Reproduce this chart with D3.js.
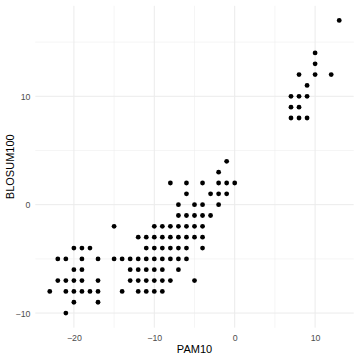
<!DOCTYPE html>
<html>
<head>
<meta charset="utf-8">
<script src="https://cdn.jsdelivr.net/npm/d3@7"></script>
<style>
  html, body { margin: 0; padding: 0; background: #fff; }
  svg { display: block; }
  text { font-family: "Liberation Sans", Arial, Helvetica, sans-serif; }
</style>
</head>
<body>
<svg id="chart" width="360" height="360"></svg>
<script>
// Data: paired scores (PAM10, BLOSUM100)
const pam10 = [
  -21,
  -20, -17,
  -23, -21, -20, -19, -18, -17, -14, -12, -11, -10, -9,
  -22, -21, -20, -19, -17, -13, -12, -11, -10, -9, -8, -5,
  -20, -19, -13, -12, -11, -10, -9, -7,
  -22, -21, -19, -17, -15, -14, -13, -12, -11, -10, -9, -8, -7, -6,
  -20, -19, -18, -11, -10, -9, -8, -7, -6, -4,
  -12, -11, -10, -9, -8, -7, -6, -5, -4,
  -15, -10, -9, -8, -7, -6, -5, -4,
  -7, -6, -5, -4, -3,
  -7, -5, -4, -2,
  -6, -3, -2, -1,
  -8, -6, -4, -2, -1, 0,
  -2,
  -1,
  7, 8, 9,
  7, 8,
  7, 8, 9,
  9,
  8, 10, 12,
  10,
  10,
  13
];
const blosum100 = [
  -10,
  -9, -9,
  -8, -8, -8, -8, -8, -8, -8, -8, -8, -8, -8,
  -7, -7, -7, -7, -7, -7, -7, -7, -7, -7, -7, -7,
  -6, -6, -6, -6, -6, -6, -6, -6,
  -5, -5, -5, -5, -5, -5, -5, -5, -5, -5, -5, -5, -5, -5,
  -4, -4, -4, -4, -4, -4, -4, -4, -4, -4,
  -3, -3, -3, -3, -3, -3, -3, -3, -3,
  -2, -2, -2, -2, -2, -2, -2, -2,
  -1, -1, -1, -1, -1,
  0, 0, 0, 0,
  1, 1, 1, 1,
  2, 2, 2, 2, 2, 2,
  3,
  4,
  8, 8, 8,
  9, 9,
  10, 10, 10,
  11,
  12, 12, 12,
  13,
  14,
  17
];
const xTicks = [-20, -10, 0, 10];
const yTicks = [-10, 0, 10];
const xMinor = [-15, -5, 5];
const yMinor = [-5, 5, 15];
const xTitle = "PAM10";
const yTitle = "BLOSUM100";

const svg = d3.select("#chart");
const panel = { left: 35.3, right: 353.7, top: 5.8, bottom: 327.7 };

function expand(ext) {
  const d = (ext[1] - ext[0]) * 0.05;
  return [ext[0] - d, ext[1] + d];
}
const x = d3.scaleLinear().domain(expand(d3.extent(pam10))).range([panel.left, panel.right]);
const y = d3.scaleLinear().domain(expand(d3.extent(blosum100))).range([panel.bottom, panel.top]);

const grid = svg.append("g");
grid.selectAll("line.vmin").data(xMinor).enter().append("line")
  .attr("x1", d => x(d)).attr("x2", d => x(d))
  .attr("y1", panel.top).attr("y2", panel.bottom)
  .attr("stroke", "#ebebeb").attr("stroke-width", 0.5);
grid.selectAll("line.hmin").data(yMinor.filter(d => y(d) >= panel.top)).enter().append("line")
  .attr("y1", d => y(d)).attr("y2", d => y(d))
  .attr("x1", panel.left).attr("x2", panel.right)
  .attr("stroke", "#ebebeb").attr("stroke-width", 0.5);
grid.selectAll("line.vmaj").data(xTicks).enter().append("line")
  .attr("x1", d => x(d)).attr("x2", d => x(d))
  .attr("y1", panel.top).attr("y2", panel.bottom)
  .attr("stroke", "#ebebeb").attr("stroke-width", 1);
grid.selectAll("line.hmaj").data(yTicks).enter().append("line")
  .attr("y1", d => y(d)).attr("y2", d => y(d))
  .attr("x1", panel.left).attr("x2", panel.right)
  .attr("stroke", "#ebebeb").attr("stroke-width", 1);

const pts = pam10.map((v, i) => [v, blosum100[i]]);
svg.append("g").selectAll("circle").data(pts).enter().append("circle")
  .attr("cx", d => x(d[0])).attr("cy", d => y(d[1]))
  .attr("r", 2.4).attr("fill", "#000");

const xAxis = d3.axisBottom(x).tickValues(xTicks).tickSize(0).tickPadding(0).tickFormat(d3.format("d"));
const gx = svg.append("g").attr("transform", `translate(0,${panel.bottom})`).call(xAxis);
gx.select(".domain").remove();
gx.selectAll("text").attr("fill", "#4d4d4d").attr("font-size", "8.8px")
  .attr("dy", null).attr("y", 13).attr("font-family", '"Liberation Sans", Arial, sans-serif');

const yAxis = d3.axisLeft(y).tickValues(yTicks).tickSize(0).tickPadding(0).tickFormat(d3.format("d"));
const gy = svg.append("g").attr("transform", `translate(${panel.left - 4.8},0)`).call(yAxis);
gy.select(".domain").remove();
gy.selectAll("text").attr("fill", "#4d4d4d").attr("font-size", "8.8px")
  .attr("x", 0).attr("dy", "0.35em").attr("font-family", '"Liberation Sans", Arial, sans-serif');

svg.append("text").attr("x", (panel.left + panel.right) / 2).attr("y", 353)
  .attr("text-anchor", "middle").attr("font-size", "11px").attr("fill", "#000").text(xTitle);
svg.append("text")
  .attr("transform", `translate(13.5,${(panel.top + panel.bottom) / 2}) rotate(-90)`)
  .attr("text-anchor", "middle").attr("font-size", "11px").attr("fill", "#000").text(yTitle);
</script>
</body>
</html>
